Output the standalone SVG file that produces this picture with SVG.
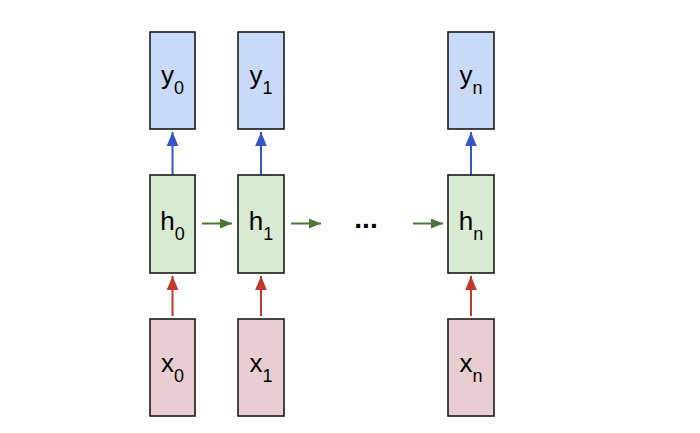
<svg xmlns="http://www.w3.org/2000/svg" width="700" height="433" viewBox="0 0 700 433">
<defs>
<style>
.box{stroke:#1a1a1a;stroke-width:1.6}
.y{fill:#c9daf8}
.h{fill:#d9ead3}
.x{fill:#eacdd0}
text{font-family:"Liberation Sans",Arial,sans-serif;font-size:26px;fill:#000;text-anchor:middle}
.sub{font-size:18px}
.dots{font-size:28px;font-weight:bold}
.ab{stroke:#3556c9;stroke-width:2;fill:none}
.ag{stroke:#4a7534;stroke-width:2;fill:none}
.ar{stroke:#c0392b;stroke-width:2;fill:none}
</style>
<marker id="mb" markerUnits="userSpaceOnUse" markerWidth="14" markerHeight="12" refX="12" refY="5" orient="auto" viewBox="0 0 12 10"><path d="M0,0 L12,5 L0,10 z" fill="#3556c9"/></marker>
<marker id="mg" markerUnits="userSpaceOnUse" markerWidth="12" markerHeight="10" refX="11" refY="4.5" orient="auto" viewBox="0 0 11 9"><path d="M0,0 L11,4.5 L0,9 z" fill="#4a7534"/></marker>
<marker id="mr" markerUnits="userSpaceOnUse" markerWidth="14" markerHeight="12" refX="12" refY="5" orient="auto" viewBox="0 0 12 10"><path d="M0,0 L12,5 L0,10 z" fill="#c0392b"/></marker>
</defs>
<rect width="700" height="433" fill="#ffffff"/>
<g id="connectors">
<line class="ab" x1="172.5" y1="175" x2="172.5" y2="132" marker-end="url(#mb)"/>
<line class="ab" x1="261" y1="175" x2="261" y2="132" marker-end="url(#mb)"/>
<line class="ab" x1="471" y1="175" x2="471" y2="132" marker-end="url(#mb)"/>
<line class="ar" x1="172.5" y1="316" x2="172.5" y2="276" marker-end="url(#mr)"/>
<line class="ar" x1="261" y1="316" x2="261" y2="276" marker-end="url(#mr)"/>
<line class="ar" x1="471" y1="316" x2="471" y2="276" marker-end="url(#mr)"/>
<line class="ag" x1="202" y1="223.5" x2="232" y2="223.5" marker-end="url(#mg)"/>
<line class="ag" x1="291" y1="223.5" x2="321" y2="223.5" marker-end="url(#mg)"/>
<line class="ag" x1="413" y1="223.5" x2="443" y2="223.5" marker-end="url(#mg)"/>
</g>
<g id="y0"><rect class="box y" x="150" y="32" width="45" height="97"/><text x="172.5" y="84">y<tspan class="sub" dy="10">0</tspan></text></g>
<g id="y1"><rect class="box y" x="238" y="32" width="46" height="97"/><text x="261" y="84">y<tspan class="sub" dy="10">1</tspan></text></g>
<g id="yn"><rect class="box y" x="448" y="32" width="46" height="97"/><text x="471" y="84">y<tspan class="sub" dy="10">n</tspan></text></g>
<g id="h0"><rect class="box h" x="150" y="175" width="45" height="98"/><text x="172.5" y="230">h<tspan class="sub" dy="10">0</tspan></text></g>
<g id="h1"><rect class="box h" x="238" y="175" width="46" height="98"/><text x="261" y="230">h<tspan class="sub" dy="10">1</tspan></text></g>
<g id="hn"><rect class="box h" x="448" y="175" width="46" height="98"/><text x="471" y="230">h<tspan class="sub" dy="10">n</tspan></text></g>
<g id="x0"><rect class="box x" x="150" y="319" width="45" height="97"/><text x="172.5" y="372">x<tspan class="sub" dy="10">0</tspan></text></g>
<g id="x1"><rect class="box x" x="238" y="319" width="46" height="97"/><text x="261" y="372">x<tspan class="sub" dy="10">1</tspan></text></g>
<g id="xn"><rect class="box x" x="448" y="319" width="46" height="97"/><text x="471" y="372">x<tspan class="sub" dy="10">n</tspan></text></g>
<g id="dots"><text class="dots" x="366" y="228">...</text></g>
</svg>
